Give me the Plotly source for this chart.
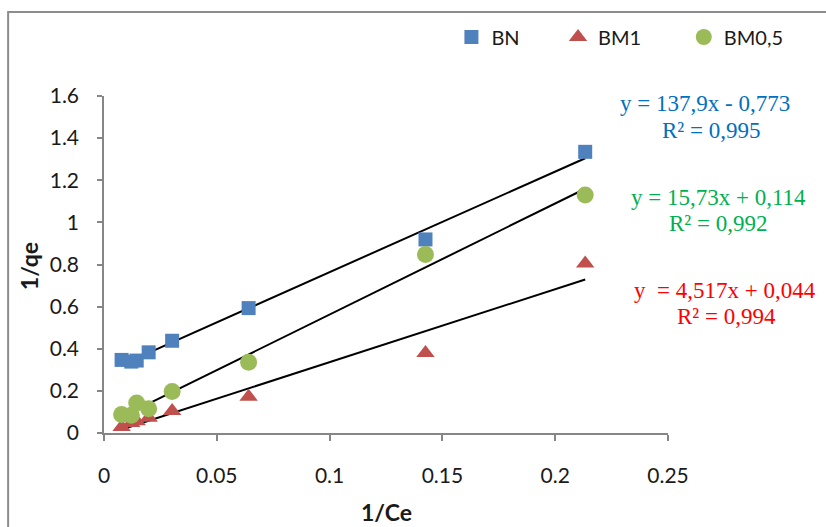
import numpy as np
import plotly.graph_objects as go

# 1/Ce values (x) shared by the three adsorbents
inv_ce = [0.0078, 0.0121, 0.0145, 0.0198, 0.0302, 0.0641, 0.1425, 0.2133]

# 1/qe values per adsorbent
bn = [0.347, 0.339, 0.344, 0.383, 0.438, 0.593, 0.919, 1.335]
bm1 = [0.028, 0.048, 0.056, 0.072, 0.105, 0.172, 0.380, 0.805]
bm05 = [0.088, 0.084, 0.142, 0.115, 0.197, 0.336, 0.848, 1.130]

series_names = ["BN", "BM1", "BM0,5"]
eq_lines = [
    ("y = 137,9x - 0,773", "R² = 0,995"),
    ("y = 15,73x + 0,114", "R² = 0,992"),
    ("y  = 4,517x + 0,044", "R² = 0,994"),
]

x_ticks = [0, 0.05, 0.1, 0.15, 0.2, 0.25]
x_tick_text = ["0", "0.05", "0.1", "0.15", "0.2", "0.25"]
y_ticks = [0, 0.2, 0.4, 0.6, 0.8, 1.0, 1.2, 1.4, 1.6]
y_tick_text = ["0", "0.2", "0.4", "0.6", "0.8", "1", "1.2", "1.4", "1.6"]

FONT = "Lato, Calibri, Carlito, sans-serif"
SERIF = "Liberation Serif, Times New Roman, serif"
AXIS_GREY = "#868686"
TEXT = "#1a1a1a"

styles = [
    dict(symbol="square", color="#4F81BD", size=14),
    dict(symbol="triangle-up", color="#C0504D", size=16),
    dict(symbol="circle", color="#9BBB59", size=17),
]
legends = ["legend", "legend2", "legend3"]

fig = go.Figure()

x = np.array(inv_ce)
for ys in [bn, bm1, bm05]:
    # linear trendline from a least-squares fit over the data range
    slope, icpt = np.polyfit(x, np.array(ys), 1)
    xs = np.array([x.min(), x.max()])
    fig.add_trace(go.Scatter(
        x=xs, y=slope * xs + icpt, mode="lines",
        line=dict(color="black", width=2), showlegend=False, hoverinfo="skip",
    ))

for name, ys, st, lg in zip(series_names, [bn, bm1, bm05], styles, legends):
    fig.add_trace(go.Scatter(
        x=inv_ce, y=ys, mode="markers", name=name, legend=lg,
        marker=dict(symbol=st["symbol"], color=st["color"], size=st["size"],
                    line=dict(width=0)),
    ))

legend_common = dict(
    orientation="h", bgcolor="rgba(0,0,0,0)", xanchor="left", yanchor="middle",
    font=dict(family=FONT, size=20, color=TEXT), itemwidth=30,
)
fig.update_layout(
    legend=dict(x=0.616, y=1.175, **legend_common),
    legend2=dict(x=0.805, y=1.175, **legend_common),
    legend3=dict(x=1.028, y=1.175, **legend_common),
)

# equation labels, one annotation per line
eq_pos = [
    ((1.066, 0.979), (1.076, 0.899), "#0070C0"),
    ((1.089, 0.700), (1.089, 0.622), "#00B050"),
    ((1.101, 0.423), (1.103, 0.346), "#FF0000"),
]
for (l1, l2), (p1, p2, col) in zip(eq_lines, eq_pos):
    for txt, (ax, ay) in ((l1, p1), (l2, p2)):
        fig.add_annotation(
            x=ax, y=ay, xref="paper", yref="paper", text=txt, showarrow=False,
            xanchor="center", yanchor="middle",
            font=dict(family=SERIF, size=23, color=col),
        )

# axis titles
fig.add_annotation(x=(386 - 104) / 564, y=(432.7 - 512) / 336.7, xref="paper", yref="paper",
                   text="<b>1/Ce</b>", showarrow=False, xanchor="center", yanchor="middle",
                   font=dict(family=FONT, size=23, color=TEXT))
fig.add_annotation(x=(29 - 104) / 564, y=(432.7 - 266) / 336.7, xref="paper", yref="paper",
                   text="<b>1/qe</b>", showarrow=False, textangle=-90,
                   xanchor="center", yanchor="middle",
                   font=dict(family=FONT, size=23, color=TEXT))

# chart border
fig.add_shape(type="rect", xref="paper", yref="paper",
              x0=-0.170, x1=1.6, y0=-0.6, y1=1.2495,
              line=dict(color="#8C8C8C", width=2), layer="below")

fig.update_xaxes(
    range=[0, 0.25], tickvals=x_ticks, ticktext=x_tick_text,
    showgrid=False, zeroline=False, showline=True, linecolor=AXIS_GREY, linewidth=1.5,
    ticks="outside", ticklen=6, tickcolor=AXIS_GREY, tickwidth=1.5,
    ticklabelstandoff=17,
    tickfont=dict(family=FONT, size=21, color=TEXT),
)
fig.update_yaxes(
    range=[0, 1.6], tickvals=y_ticks, ticktext=y_tick_text,
    showgrid=False, zeroline=False, showline=True, linecolor=AXIS_GREY, linewidth=1.5,
    ticks="outside", ticklen=5, tickcolor=AXIS_GREY, tickwidth=1.5,
    ticklabelstandoff=14,
    tickfont=dict(family=FONT, size=21, color=TEXT),
)

fig.update_layout(
    width=826, height=527,
    margin=dict(l=104, r=158, t=96, b=94),
    paper_bgcolor="white", plot_bgcolor="white",
)

fig.write_html("out.html")
